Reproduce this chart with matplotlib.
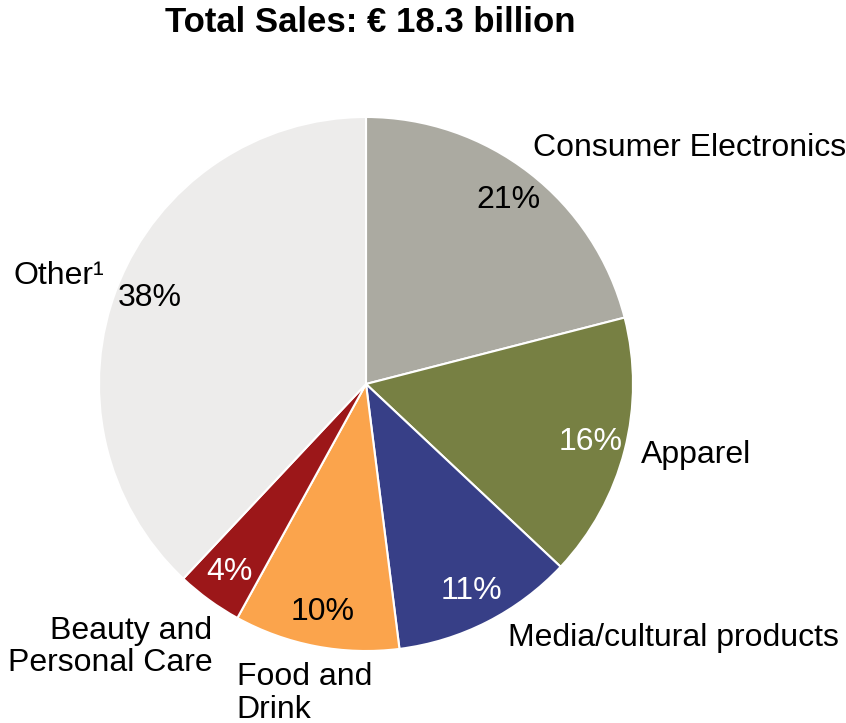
import matplotlib.pyplot as plt

plt.rcParams['font.family'] = ['Liberation Sans', 'DejaVu Sans']

categories = ["Consumer Electronics", "Apparel", "Media/cultural products",
              "Food and\nDrink", "Beauty and\nPersonal Care", "Other¹"]
shares = [21, 16, 11, 10, 4, 38]
colors = ["#abaaa1", "#778043", "#373f87", "#fba44c", "#9c1719", "#edeceb"]
pct_colors = ["black", "white", "white", "black", "white", "black"]

# label anchor positions (axes data units, pie radius = 1) and alignment
label_pos = [(0.625, 0.885, "left", "center"),
             (1.03, -0.265, "left", "center"),
             (0.53, -0.95, "left", "center"),
             (-0.485, -1.16, "left", "center"),
             (-0.575, -0.985, "right", "center"),
             (-1.32, 0.405, "left", "center")]

W, H = 846, 723
cx, cy, r = 366, 384, 267

fig = plt.figure(figsize=(W / 100, H / 100), dpi=100)
ax = fig.add_axes([(cx - r) / W, (H - cy - r) / H, 2 * r / W, 2 * r / H])

wedges, texts, autotexts = ax.pie(
    shares, colors=colors, startangle=90, counterclock=False,
    autopct="%d%%", pctdistance=0.87,
    wedgeprops=dict(edgecolor="white", linewidth=1.5),
    textprops=dict(fontsize=23))
for t, c in zip(autotexts, pct_colors):
    t.set_color(c)

for name, (x, y, ha, va) in zip(categories, label_pos):
    ax.text(x, y, name, ha=ha, va=va, fontsize=23, linespacing=1.12,
            clip_on=False)

ax.set_xlim(-1, 1)
ax.set_ylim(-1, 1)
ax.set_aspect("auto")

fig.text(370 / W, 1 - 23 / H, "Total Sales: € 18.3 billion", ha="center",
         va="center", fontsize=25, fontweight="bold")

fig.savefig("out.png", dpi=100)
